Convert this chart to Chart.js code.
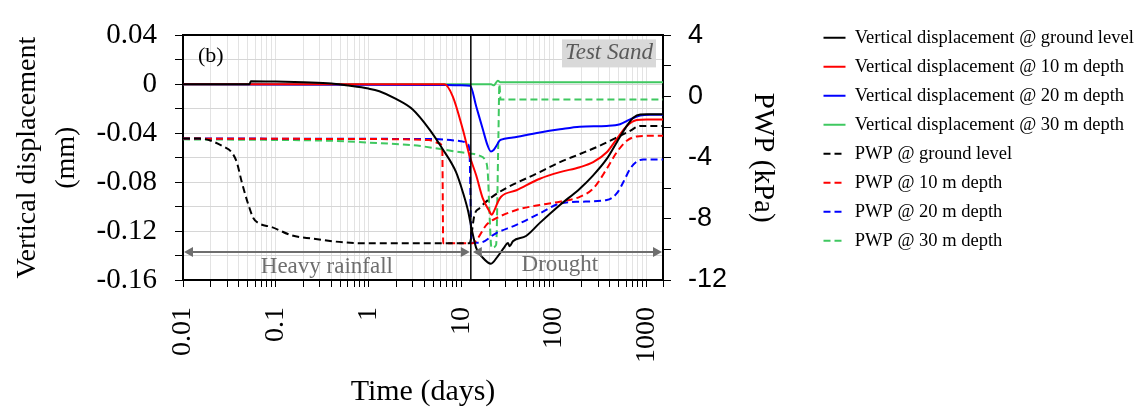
<!DOCTYPE html>
<html>
<head>
<meta charset="utf-8">
<script src="https://cdn.jsdelivr.net/npm/chart.js@4.4.0/dist/chart.umd.min.js"></script>
<style>
html, body { margin: 0; padding: 0; background: #fff; }
</style>
</head>
<body>
<canvas id="chart" width="1143" height="414"></canvas>
<script>
// time (days) and values
const tDispGround = [0.01, 0.052, 0.054, 0.1, 0.2, 0.4, 0.57, 1.0, 1.31, 1.98, 3.0, 4.54, 6.3, 8.8, 10.4, 11.9, 12.9, 14.5, 17.1, 20.9, 24.9, 29, 31.9, 33.3, 36.1, 50, 70, 116, 190, 265, 371, 475, 611, 716, 851, 1000, 1500];
const vDispGround = [0, 0, 0.0026, 0.0023, 0.0017, 0.0007, -0.0008, -0.0035, -0.0057, -0.012, -0.0206, -0.0368, -0.0529, -0.0718, -0.088, -0.104, -0.1176, -0.1337, -0.1418, -0.1467, -0.1404, -0.1335, -0.1297, -0.1324, -0.1283, -0.124, -0.1135, -0.0987, -0.0853, -0.0744, -0.061, -0.0475, -0.034, -0.0273, -0.0246, -0.0245, -0.0245];

const tDisp10 = [0.01, 6.6, 8.1, 10.4, 12.3, 14.5, 17.1, 20.2, 21.3, 22.9, 24.9, 26.9, 39.4, 70.5, 116, 190, 265, 371, 475, 611, 783, 1000, 1500];
const vDisp10 = [0, 0, -0.0098, -0.0368, -0.0583, -0.0744, -0.0933, -0.104, -0.1067, -0.1027, -0.096, -0.0919, -0.0866, -0.0772, -0.0718, -0.0678, -0.0637, -0.0556, -0.0448, -0.034, -0.0292, -0.0287, -0.0287];

const tDisp20 = [0.01, 5, 10, 12.5, 14.5, 17.1, 19.3, 20.9, 22.5, 23.9, 25.9, 27, 36.1, 70.5, 116, 190, 371, 516, 663, 851, 1091, 1500];
const vDisp20 = [0, -0.0005, -0.0008, -0.0012, -0.0179, -0.0368, -0.0502, -0.055, -0.0535, -0.0505, -0.046, -0.0452, -0.0435, -0.0394, -0.0368, -0.0346, -0.034, -0.0327, -0.0287, -0.0255, -0.0249, -0.0249];

const tDisp30 = [0.01, 21, 22.5, 24.8, 26.5, 1500];
const vDisp30 = [0, 0, -0.0008, 0.003, 0.0016, 0.0016];

const tPwpGround = [0.01, 0.0151, 0.0283, 0.0335, 0.038, 0.043, 0.0508, 0.0575, 0.065, 0.0908, 0.149, 0.246, 0.57, 1, 12.3, 13.9, 15.7, 22.9, 70.3, 116, 190.6, 314, 516, 662, 849, 1500];
const pPwpGround = [-2.75, -2.75, -3.32, -3.65, -4.29, -5.59, -7.09, -7.96, -8.28, -8.54, -9.08, -9.29, -9.55, -9.6, -9.6, -7.74, -7.31, -6.45, -4.94, -4.29, -3.76, -3.21, -2.57, -2.24, -1.92, -1.92];

const tPwp10 = [0.01, 1, 4.5, 5.8, 6.25, 6.4, 13.4, 15.2, 18.7, 23.9, 39.4, 70.5, 116, 190, 265, 371, 475, 611, 783, 1091, 1500];
const pPwp10 = [-2.75, -2.78, -2.85, -3.05, -3.4, -9.6, -9.6, -9.25, -8.39, -7.96, -7.42, -7.09, -6.88, -6.56, -6.02, -4.73, -3.65, -2.89, -2.61, -2.57, -2.57];

const tPwp20 = [0.01, 5, 10, 11.8, 12.3, 12.9, 15.7, 23.9, 39.4, 70.5, 116, 190, 371, 475, 561, 663, 783, 923, 1500];
const pPwp20 = [-2.75, -2.78, -2.92, -3.11, -3.65, -9.57, -9.57, -8.93, -8.39, -7.64, -6.99, -6.88, -6.77, -6.34, -5.59, -4.73, -4.25, -4.12, -4.12];

const tPwp30 = [0.01, 0.1, 0.376, 1.31, 3.0, 4.9, 6.9, 8.8, 12.3, 15.7, 18.2, 19.3, 20.3, 21.2, 23.8, 25.2, 25.8, 26.6, 1500];
const pPwp30 = [-2.8, -2.84, -2.89, -3.05, -3.18, -3.35, -3.5, -3.6, -3.72, -3.86, -4.2, -4.9, -8.0, -9.9, -9.7, -2.5, 0.8, -0.2, -0.2];

const seriesLabels = [
    'Vertical displacement @ ground level',
    'Vertical displacement @ 10 m depth',
    'Vertical displacement @ 20 m depth',
    'Vertical displacement @ 30 m depth',
    'PWP @ ground level',
    'PWP @ 10 m depth',
    'PWP @ 20 m depth',
    'PWP @ 30 m depth'
];

const xDecades = [0.01, 0.1, 1, 10, 100, 1000];
const xTickLabels = ['0.01', '0.1', '1', '10', '100', '1000'];

const splitDay = 12.7;        // end of heavy rainfall
const arrowLevel = -0.1372;   // mm, height of the period arrows

const SERIF = '"Liberation Serif", "Times New Roman", serif';
const SANS = '"Liberation Sans", Arial, sans-serif';
const GREEN = '#3fc860';

function points(ts, vs)
{
    return ts.map((t, i) => ({x: t, y: vs[i]}));
}

function lineSet(label, ts, vs, color, axis, dashed)
{
    return {
        label: label,
        data: points(ts, vs),
        borderColor: color,
        backgroundColor: color,
        borderWidth: 2,
        borderDash: dashed ? [7, 4] : [],
        pointRadius: 0,
        cubicInterpolationMode: 'monotone',
        yAxisID: axis
    };
}

// minor log gridlines 1..9 per decade
const xGridValues = [];
xDecades.forEach(d =>
{
    for (let k = 1; k <= 9; k++)
    {
        const v = +(d * k).toPrecision(6);
        if (v <= 1500) xGridValues.push(v);
    }
});
xGridValues.push(1500);

function drawArrow(ctx, x0, x1, y)
{
    const hl = 9, hw = 5;
    ctx.beginPath();
    ctx.moveTo(x0 + hl, y);
    ctx.lineTo(x1 - hl, y);
    ctx.stroke();
    ctx.beginPath();
    ctx.moveTo(x0, y);
    ctx.lineTo(x0 + hl, y - hw);
    ctx.lineTo(x0 + hl, y + hw);
    ctx.closePath();
    ctx.fill();
    ctx.beginPath();
    ctx.moveTo(x1, y);
    ctx.lineTo(x1 - hl, y - hw);
    ctx.lineTo(x1 - hl, y + hw);
    ctx.closePath();
    ctx.fill();
}

const annotations =
{
    id: 'annotations',
    afterDatasetsDraw(chart)
    {
        const {ctx, chartArea: a, scales: {x, y}} = chart;
        const xs = x.getPixelForValue(splitDay);
        ctx.save();

        ctx.strokeStyle = '#000';
        ctx.lineWidth = 1.5;
        ctx.beginPath();
        ctx.moveTo(xs, a.top);
        ctx.lineTo(xs, a.bottom);
        ctx.stroke();

        const ya = y.getPixelForValue(arrowLevel);
        ctx.strokeStyle = '#6e6e6e';
        ctx.fillStyle = '#6e6e6e';
        ctx.lineWidth = 2;
        drawArrow(ctx, a.left + 1, xs - 1, ya);
        drawArrow(ctx, xs + 2, a.right - 1, ya);

        ctx.font = '23px ' + SERIF;
        ctx.textAlign = 'center';
        ctx.textBaseline = 'middle';
        ctx.fillText('Heavy rainfall', x.getPixelForValue(0.356), y.getPixelForValue(-0.1493));
        ctx.fillText('Drought', x.getPixelForValue(116), y.getPixelForValue(-0.1477));

        ctx.fillStyle = '#000';
        ctx.font = '22px ' + SERIF;
        ctx.textAlign = 'left';
        ctx.fillText('(b)', a.left + 15, a.top + 21);

        ctx.fillStyle = '#d9d9d9';
        ctx.fillRect(a.right - 101, a.top + 4, 94, 28);
        ctx.fillStyle = '#5a5a5a';
        ctx.font = 'italic 23px ' + SERIF;
        ctx.textAlign = 'center';
        ctx.fillText('Test Sand', a.right - 54, a.top + 18);

        ctx.restore();
    }
};

const datasets =
[
    lineSet(seriesLabels[0], tDispGround, vDispGround, '#000000', 'y', false),
    lineSet(seriesLabels[1], tDisp10, vDisp10, '#ff0000', 'y', false),
    lineSet(seriesLabels[2], tDisp20, vDisp20, '#0000ff', 'y', false),
    lineSet(seriesLabels[3], tDisp30, vDisp30, GREEN, 'y', false),
    lineSet(seriesLabels[4], tPwpGround, pPwpGround, '#000000', 'y2', true),
    lineSet(seriesLabels[5], tPwp10, pPwp10, '#ff0000', 'y2', true),
    lineSet(seriesLabels[6], tPwp20, pPwp20, '#0000ff', 'y2', true),
    lineSet(seriesLabels[7], tPwp30, pPwp30, GREEN, 'y2', true)
];

const config =
{
    type: 'line',
    data: { datasets: datasets },
    options:
    {
        responsive: false,
        animation: false,
        layout: { padding: { top: 18, left: 0, right: 0, bottom: 0 } },
        plugins:
        {
            legend:
            {
                position: 'right',
                align: 'start',
                maxWidth: 330,
                labels:
                {
                    usePointStyle: true,
                    pointStyle: 'line',
                    pointStyleWidth: 22,
                    padding: 10.5,
                    color: '#000',
                    font: { family: SERIF, size: 18.5 },
                    // point style drops the dash, so copy it back from the dataset
                    generateLabels: chart =>
                        Chart.defaults.plugins.legend.labels.generateLabels(chart).map(item =>
                        {
                            const ds = chart.data.datasets[item.datasetIndex];
                            item.lineDash = ds.borderDash;
                            item.lineWidth = ds.borderWidth;
                            item.strokeStyle = ds.borderColor;
                            return item;
                        })
                }
            },
            tooltip: { enabled: false }
        },
        scales:
        {
            x:
            {
                type: 'logarithmic',
                position: 'bottom',
                min: 0.01,
                max: 1500,
                afterBuildTicks: s => { s.ticks = xGridValues.map(v => ({value: v})); },
                afterFit: s => { s.height = 134; },
                ticks:
                {
                    autoSkip: false,
                    maxRotation: 90,
                    minRotation: 90,
                    padding: 20,
                    color: '#000',
                    font: { family: SERIF, size: 28 },
                    callback: v =>
                    {
                        const i = xDecades.findIndex(d => Math.abs(d - v) < d * 1e-6);
                        return i >= 0 ? xTickLabels[i] : '';
                    }
                },
                grid: { color: '#e3e3e3', lineWidth: 1, tickLength: 7, tickColor: '#000' },
                border: { color: '#000', width: 2 },
                title:
                {
                    display: true,
                    text: 'Time (days)',
                    color: '#000',
                    font: { family: SERIF, size: 30, lineHeight: 1.2 },
                    padding: { top: 0, bottom: 4 }
                }
            },
            xTop:
            {
                type: 'logarithmic',
                position: 'top',
                min: 0.01,
                max: 1500,
                afterFit: s => { s.height = 13.7; },
                ticks: { display: false },
                grid: { display: false, drawTicks: false },
                border: { display: true, color: '#000', width: 2 }
            },
            y:
            {
                position: 'left',
                min: -0.16,
                max: 0.04,
                afterFit: s => { s.width = 183; },
                ticks:
                {
                    stepSize: 0.02,
                    autoSkip: false,
                    padding: 18,
                    color: '#000',
                    font: { family: SERIF, size: 29 },
                    callback: v =>
                    {
                        const k = Math.round(v * 100);
                        if (k % 4 !== 0) return '';
                        return k === 0 ? '0' : (k / 100).toFixed(2);
                    }
                },
                grid: { color: '#d6d6d6', lineWidth: 1, tickLength: 8, tickColor: '#000' },
                border: { color: '#000', width: 2 },
                title:
                {
                    display: true,
                    text: ['Vertical displacement', '(mm)'],
                    color: '#000',
                    font: { family: SERIF, size: 28, lineHeight: 1.4 },
                    padding: { top: 8, bottom: 0 }
                }
            },
            y2:
            {
                position: 'right',
                min: -12,
                max: 4,
                afterFit: s =>
                {
                    const lg = s.chart.legend;
                    s.width = 1143 - 663 - (lg && lg.width ? lg.width : 330);
                },
                ticks:
                {
                    stepSize: 2,
                    autoSkip: false,
                    padding: 17,
                    color: '#000',
                    font: { family: SANS, size: 27 },
                    callback: v => (Math.round(v) % 4 === 0 ? String(Math.round(v)) : '')
                },
                grid: { drawOnChartArea: false, tickLength: 8, tickColor: '#000' },
                border: { color: '#000', width: 2 },
                title:
                {
                    display: true,
                    text: 'PWP (kPa)',
                    color: '#000',
                    font: { family: SERIF, size: 29, lineHeight: 1.2 },
                    padding: { top: 33, bottom: 0 }
                }
            }
        }
    },
    plugins: [annotations]
};

new Chart(document.getElementById('chart').getContext('2d'), config);
</script>
</body>
</html>
